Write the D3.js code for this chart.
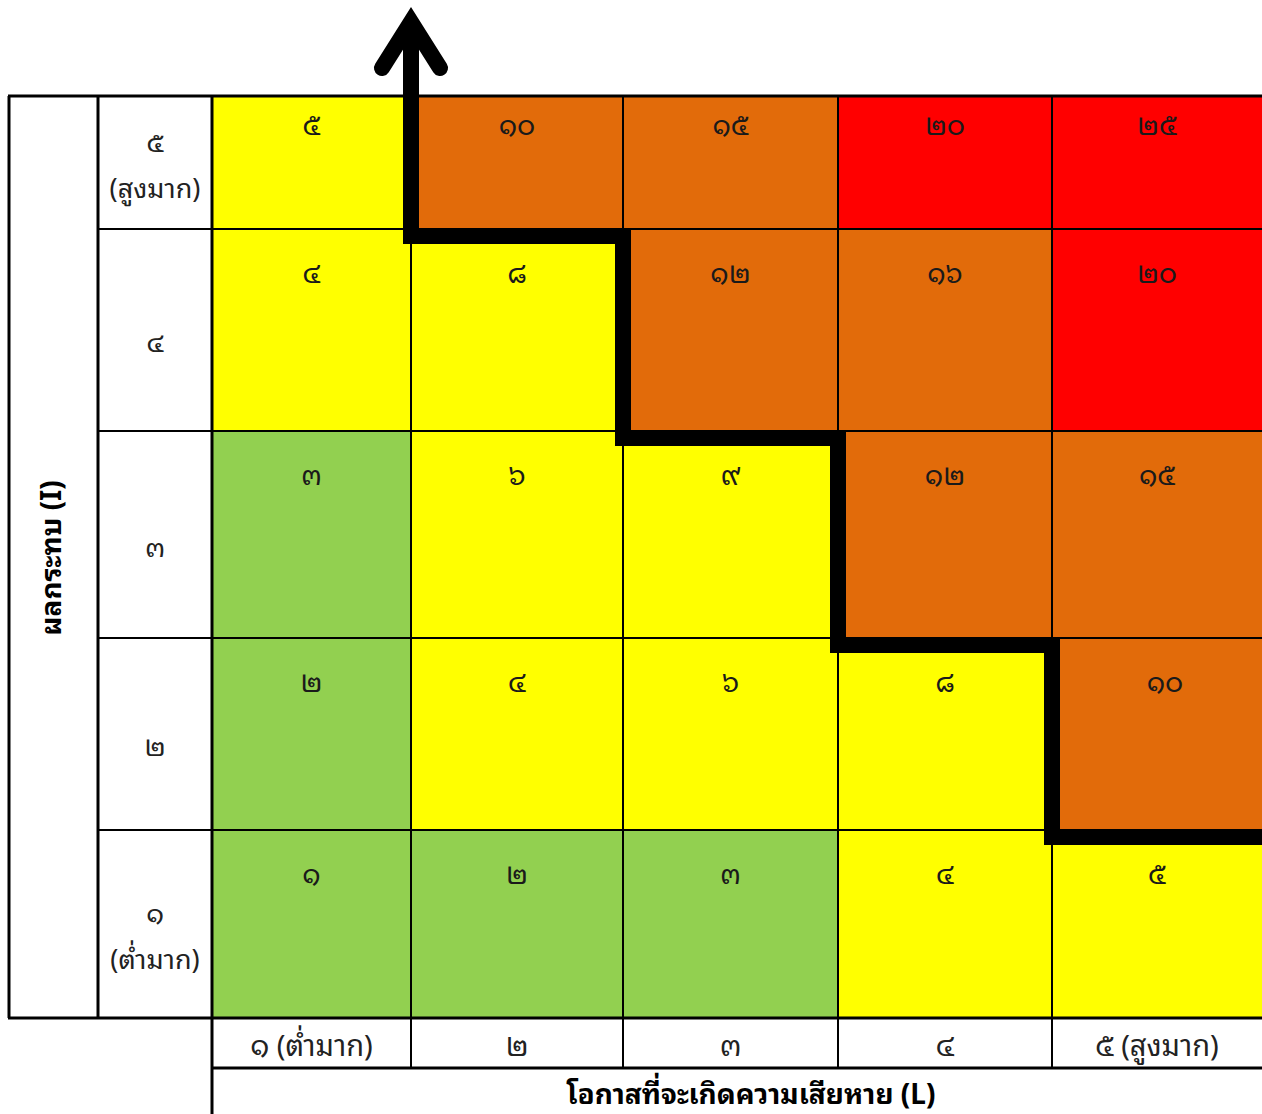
<!DOCTYPE html>
<html><head><meta charset="utf-8">
<script src="https://cdn.jsdelivr.net/npm/d3@7"></script>
<style>html,body{margin:0;padding:0;background:#fff;}svg{display:block;}</style>
</head><body>
<svg id="c" width="1262" height="1114"></svg>
<script>
// ---- data ----
const likelihoodLevels = [1, 2, 3, 4, 5];
const impactLevels = [1, 2, 3, 4, 5];
const likelihoodLabels = ["๑ (ต่ำมาก)", "๒", "๓", "๔", "๕ (สูงมาก)"];
const impactLabels = [["๑", "(ต่ำมาก)"], ["๒"], ["๓"], ["๔"], ["๕", "(สูงมาก)"]];
const xTitle = "โอกาสที่จะเกิดความเสียหาย (L)";
const yTitle = "ผลกระทบ (I)";
// risk score per cell, rows = impact 1..5, cols = likelihood 1..5
const scores = [
  [1, 2, 3, 4, 5],
  [2, 4, 6, 8, 10],
  [3, 6, 9, 12, 15],
  [4, 8, 12, 16, 20],
  [5, 10, 15, 20, 25]
];
// risk level per cell
const levels = [
  ["low", "low", "low", "medium", "medium"],
  ["low", "medium", "medium", "medium", "high"],
  ["low", "medium", "medium", "high", "high"],
  ["medium", "medium", "high", "high", "veryhigh"],
  ["medium", "high", "high", "veryhigh", "veryhigh"]
];
const levelColors = {low: "#92D050", medium: "#FFFF00", high: "#E26B0A", veryhigh: "#FF0000"};
// acceptable-risk boundary (grid units: likelihood boundary, impact boundary)
const boundary = [[1, 4], [2, 4], [2, 3], [3, 3], [3, 2], [4, 2], [4, 1], [5, 1]];

// ---- scales ----
const x = d3.scaleLinear().domain([0, 1, 2, 3, 4, 5]).range([212, 411, 623, 838, 1052, 1262]);
const y = d3.scaleLinear().domain([0, 1, 2, 3, 4, 5]).range([1018, 830, 638, 431, 229, 96]);

const svg = d3.select("#c");
const FONT = "'Noto Sans Thai Looped','Leelawadee UI','Tahoma','Noto Sans Thai','Noto Sans','DejaVu Sans',sans-serif";
const thai = n => String(n).replace(/[0-9]/g, d => "๐๑๒๓๔๕๖๗๘๙"[+d]);

const cells = [];
impactLevels.forEach((r, i) => likelihoodLevels.forEach((c, j) => cells.push({r, c, s: scores[i][j], lv: levels[i][j]})));

// cells
svg.append("g").selectAll("rect").data(cells).join("rect")
  .attr("x", d => x(d.c - 1)).attr("y", d => y(d.r))
  .attr("width", d => x(d.c) - x(d.c - 1)).attr("height", d => y(d.r - 1) - y(d.r))
  .attr("fill", d => levelColors[d.lv]);

// grid lines (thin)
const g = svg.append("g").attr("stroke", "#000").attr("stroke-width", 2);
[1, 2, 3, 4].forEach(k => {
  g.append("line").attr("x1", x(k)).attr("x2", x(k)).attr("y1", y(5)).attr("y2", y(0) + 50);
  g.append("line").attr("x1", 98).attr("x2", x(5)).attr("y1", y(k)).attr("y2", y(k));
});
// frame lines (thicker)
const f = svg.append("g").attr("stroke", "#000").attr("stroke-width", 3);
f.append("line").attr("x1", 8).attr("x2", 1262).attr("y1", y(5)).attr("y2", y(5));
f.append("line").attr("x1", 8).attr("x2", 1262).attr("y1", y(0)).attr("y2", y(0));
f.append("line").attr("x1", x(0)).attr("x2", 1262).attr("y1", y(0) + 50).attr("y2", y(0) + 50);
f.append("line").attr("x1", 9).attr("x2", 9).attr("y1", y(5)).attr("y2", y(0));
f.append("line").attr("x1", 98).attr("x2", 98).attr("y1", y(5)).attr("y2", y(0));
f.append("line").attr("x1", x(0)).attr("x2", x(0)).attr("y1", y(5)).attr("y2", 1114);

// cell scores
svg.append("g").selectAll("text").data(cells).join("text")
  .attr("x", d => (x(d.c - 1) + x(d.c)) / 2 + (d.r === 2 && d.c === 5 ? 8 : 0))
  .attr("y", d => y(d.r) + (d.r === 5 ? 39 : 54))
  .attr("text-anchor", "middle").attr("font-family", FONT).attr("font-size", 28).attr("fill", "#1a1a1a")
  .text(d => thai(d.s));

// impact labels
impactLevels.forEach((r, i) => {
  const lines = impactLabels[i];
  const cy = (y(r) + y(r - 1)) / 2 + 22;
  const t = svg.append("text").attr("x", 155).attr("text-anchor", "middle")
    .attr("font-family", FONT).attr("font-size", 27).attr("fill", "#222");
  lines.forEach((s, k) => {
    const dy = lines.length > 1 ? (r === 5 ? -10 : 0) : 0;
    t.append("tspan").attr("x", 155).attr("y", cy + (k - (lines.length - 1) / 2) * 46 + dy).text(s);
  });
});

// likelihood labels
likelihoodLevels.forEach((c, j) => {
  svg.append("text").attr("x", (x(c - 1) + x(c)) / 2).attr("y", y(0) + 38)
    .attr("text-anchor", "middle").attr("font-family", FONT).attr("font-size", 29).attr("fill", "#222")
    .text(likelihoodLabels[j]);
});

// titles
svg.append("text").attr("x", 751).attr("y", 1104).attr("text-anchor", "middle")
  .attr("font-family", FONT).attr("font-size", 28).attr("font-weight", "bold").attr("fill", "#000").text(xTitle);
svg.append("text").attr("transform", "translate(61,558) rotate(-90)").attr("text-anchor", "middle")
  .attr("font-family", FONT).attr("font-size", 28).attr("font-weight", "bold").attr("fill", "#000").text(yTitle);

// boundary staircase
const off = 7;
const pts = [[x(1), 22]].concat(boundary.map(([a, b]) => [x(a), y(b) + off]));
svg.append("path").attr("d", d3.line()(pts)).attr("fill", "none").attr("stroke", "#000")
  .attr("stroke-width", 16).attr("stroke-linejoin", "miter").attr("stroke-linecap", "butt");
// arrowhead
svg.append("path").attr("d", d3.line()([[x(1) - 29, 68], [x(1), 22], [x(1) + 29, 68]]))
  .attr("fill", "none").attr("stroke", "#000").attr("stroke-width", 16)
  .attr("stroke-linejoin", "miter").attr("stroke-linecap", "round");
</script>
</body></html>
